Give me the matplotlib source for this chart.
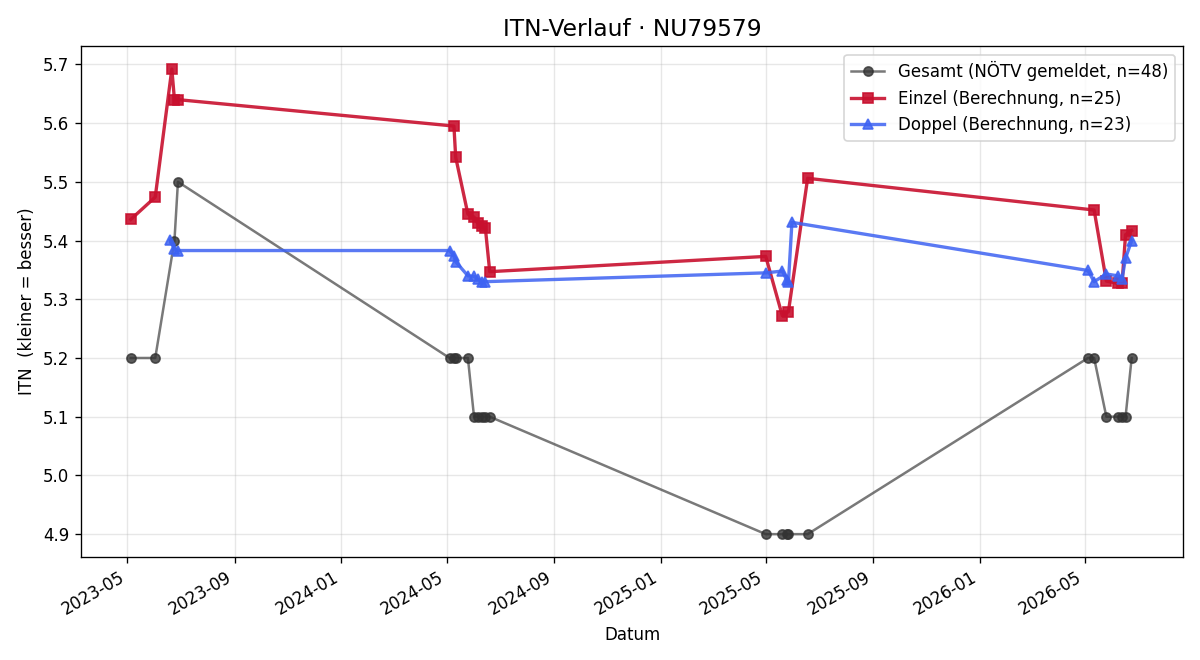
import pandas as pd
import matplotlib.pyplot as plt
import matplotlib.dates as mdates

# Gesamt (NÖTV gemeldet)
gesamt_dates = ["2023-05-05", "2023-06-02", "2023-06-24", "2023-06-28",
                "2024-05-04", "2024-05-09", "2024-05-11", "2024-05-25",
                "2024-06-01", "2024-06-05", "2024-06-10", "2024-06-14", "2024-06-19",
                "2025-05-01", "2025-05-20", "2025-05-25", "2025-05-27", "2025-06-18",
                "2026-05-05", "2026-05-12", "2026-05-26", "2026-06-08", "2026-06-13",
                "2026-06-17", "2026-06-24"]
gesamt_itn = [5.2, 5.2, 5.4, 5.5,
              5.2, 5.2, 5.2, 5.2,
              5.1, 5.1, 5.1, 5.1, 5.1,
              4.9, 4.9, 4.9, 4.9, 4.9,
              5.2, 5.2, 5.1, 5.1, 5.1,
              5.1, 5.2]

# Einzel (Berechnung)
einzel_dates = ["2023-05-05", "2023-06-02", "2023-06-21", "2023-06-24", "2023-06-28",
                "2024-05-09", "2024-05-11", "2024-05-25", "2024-06-01", "2024-06-05",
                "2024-06-10", "2024-06-14", "2024-06-19",
                "2025-05-01", "2025-05-20", "2025-05-27", "2025-06-18",
                "2026-05-12", "2026-05-26", "2026-06-08", "2026-06-13",
                "2026-06-17", "2026-06-24"]
einzel_itn = [5.436, 5.474, 5.692, 5.640, 5.640,
              5.595, 5.542, 5.445, 5.440, 5.430,
              5.425, 5.421, 5.347,
              5.373, 5.272, 5.279, 5.506,
              5.452, 5.331, 5.327, 5.327,
              5.410, 5.417]

# Doppel (Berechnung)
doppel_dates = ["2023-06-19", "2023-06-24", "2023-06-28",
                "2024-05-04", "2024-05-09", "2024-05-11", "2024-05-25", "2024-06-01",
                "2024-06-05", "2024-06-10", "2024-06-14",
                "2025-05-01", "2025-05-20", "2025-05-25", "2025-05-27", "2025-05-31",
                "2026-05-05", "2026-05-12", "2026-05-26", "2026-06-08", "2026-06-13",
                "2026-06-17", "2026-06-24"]
doppel_itn = [5.401, 5.385, 5.383,
              5.383, 5.374, 5.364, 5.340, 5.339,
              5.335, 5.330, 5.330,
              5.345, 5.348, 5.333, 5.329, 5.431,
              5.349, 5.330, 5.343, 5.340, 5.335,
              5.370, 5.400]

fig, ax = plt.subplots(figsize=(10, 5.5), dpi=120)

# Linie heller, Marker dunkler (wie im Original)
ax.plot(pd.to_datetime(gesamt_dates), gesamt_itn, marker='o',
        color=(0.25, 0.25, 0.25, 0.7), mfc=(0.2, 0.2, 0.2, 0.8),
        mec=(0.2, 0.2, 0.2, 0.8), lw=1.5, ms=5.5,
        label="Gesamt (NÖTV gemeldet, n=48)")
ax.plot(pd.to_datetime(einzel_dates), einzel_itn, marker='s', color='#c8102e',
        alpha=0.9, lw=2, ms=6, label="Einzel (Berechnung, n=25)")
ax.plot(pd.to_datetime(doppel_dates), doppel_itn, marker='^', color='#3d62f2',
        alpha=0.85, lw=2, ms=6, label="Doppel (Berechnung, n=23)")

ax.set_title("ITN-Verlauf · NU79579", fontsize=14)
ax.set_xlabel("Datum")
ax.set_ylabel("ITN  (kleiner = besser)")
ax.grid(True, alpha=0.3)
ax.legend(loc='upper right')

ax.set_ylim(4.861, 5.731)
ax.set_xlim(pd.Timestamp("2023-03-09"), pd.Timestamp("2026-08-22"))
ax.xaxis.set_major_locator(mdates.MonthLocator(bymonth=[1, 5, 9]))
ax.xaxis.set_major_formatter(mdates.DateFormatter('%Y-%m'))
plt.setp(ax.get_xticklabels(), rotation=30, ha='right')

plt.subplots_adjust(left=0.0675, right=0.986, top=0.930, bottom=0.156)
plt.savefig("out.png")
plt.close()
